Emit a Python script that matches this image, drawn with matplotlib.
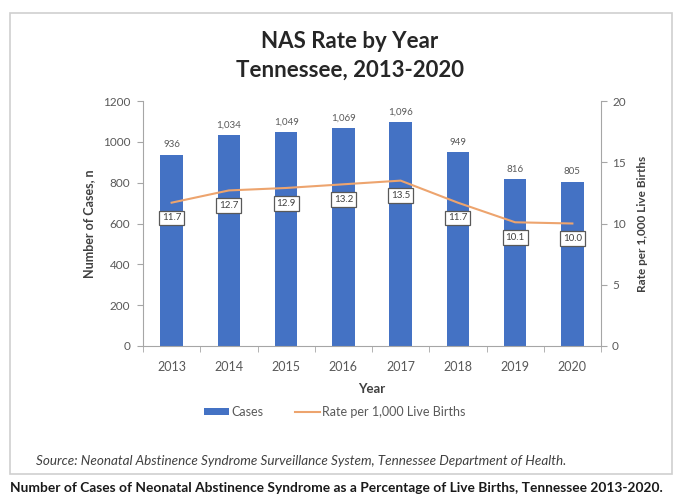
import numpy as np
import matplotlib.pyplot as plt
from matplotlib.patches import Rectangle, Patch
from matplotlib.lines import Line2D

plt.rcParams['font.family'] = ['Lato', 'DejaVu Sans']

years = ["2013", "2014", "2015", "2016", "2017", "2018", "2019", "2020"]
cases = [936, 1034, 1049, 1069, 1096, 949, 816, 805]
case_labels = ["936", "1,034", "1,049", "1,069", "1,096", "949", "816", "805"]
rates = [11.7, 12.7, 12.9, 13.2, 13.5, 11.7, 10.1, 10.0]

bar_color = "#4472C4"
line_color = "#EDA46E"
tick_color = "#595959"
spine_color = "#A6A6A6"

W, H = 678, 499
fig = plt.figure(figsize=(W / 100, H / 100), dpi=100)
fig.patch.set_facecolor("white")

# outer frame of the chart object
frame = Rectangle((10 / W, 1 - 474 / H), 662 / W, 461 / H, transform=fig.transFigure,
                  fill=False, edgecolor="#CFCFCF", linewidth=1.2)
fig.patches.append(frame)

ax = fig.add_axes([143 / W, 1 - 346 / H, 458 / W, 245 / H])
x = np.arange(len(years))
ax.bar(x, cases, width=0.39, color=bar_color, zorder=2)
ax.set_xlim(-0.5, len(years) - 0.5)
ax.set_ylim(0, 1200)
ax.set_yticks(range(0, 1201, 200))
ax.set_xticks(x)
ax.set_xticklabels(years)
ax.set_xticks(np.arange(-0.5, len(years), 1), minor=True)
ax.tick_params(axis="x", which="major", length=0, pad=11, labelsize=9, labelcolor=tick_color)
ax.tick_params(axis="x", which="minor", length=4, color=spine_color)
ax.tick_params(axis="y", length=4, color=spine_color, labelsize=8.5, labelcolor=tick_color, pad=5)
for s in ["top", "right"]:
    ax.spines[s].set_visible(False)
for s in ["left", "bottom"]:
    ax.spines[s].set_color(spine_color)
ax.set_ylabel("Number of Cases, n", fontsize=9, fontweight="bold", color="#404040", labelpad=6)
ax.set_xlabel("Year", fontsize=9.5, fontweight="bold", color="#404040", labelpad=7)

for xi, v, lab in zip(x, cases, case_labels):
    ax.annotate(lab, (xi, v), xytext=(0, 4), textcoords="offset points",
                ha="center", va="bottom", fontsize=7, color=tick_color)

ax2 = ax.twinx()
ax2.plot(x, rates, color=line_color, linewidth=1.5, zorder=3)
ax2.set_ylim(0, 20)
ax2.set_yticks(range(0, 21, 5))
ax2.tick_params(axis="y", length=4, color=spine_color, labelsize=8.5, labelcolor=tick_color, pad=4)
ax2.spines["top"].set_visible(False)
ax2.spines["left"].set_visible(False)
ax2.spines["bottom"].set_visible(False)
ax2.spines["right"].set_color(spine_color)
ax2.set_ylabel("Rate per 1,000 Live Births", fontsize=8.5, fontweight="bold", color="#404040", labelpad=8)

for xi, r in zip(x, rates):
    ax2.annotate(f"{r:.1f}", (xi, r), xytext=(0, -11), textcoords="offset points",
                 ha="center", va="center", fontsize=7, color="#404040",
                 bbox=dict(boxstyle="square,pad=0.3", facecolor="white", edgecolor="#595959", linewidth=0.9))

fig.text(350 / W, 1 - 42 / H, "NAS Rate by Year", ha="center", va="center",
         fontsize=16, fontweight="bold", color="#262626")
fig.text(350 / W, 1 - 70 / H, "Tennessee, 2013-2020", ha="center", va="center",
         fontsize=16, fontweight="bold", color="#262626")

handles = [Patch(facecolor=bar_color, edgecolor="none"),
           Line2D([0], [0], color=line_color, linewidth=1.5)]
fig.legend(handles, ["Cases", "Rate per 1,000 Live Births"], loc="center",
           bbox_to_anchor=(335 / W, 1 - 412 / H), ncol=2, frameon=False,
           fontsize=9, handlelength=2.0, handleheight=0.45, handletextpad=0.2, columnspacing=2.5,
           labelcolor=tick_color)

fig.text(36 / W, 1 - 461 / H,
         "Source: Neonatal Abstinence Syndrome Surveillance System, Tennessee Department of Health.",
         ha="left", va="center", fontsize=9.7, style="italic", color="#404040")
fig.text(10 / W, 1 - 488 / H,
         "Number of Cases of Neonatal Abstinence Syndrome as a Percentage of Live Births, Tennessee 2013-2020.",
         ha="left", va="center", fontsize=9.9, fontweight="bold", color="#1a1a1a")

fig.savefig("out.png", dpi=100)
